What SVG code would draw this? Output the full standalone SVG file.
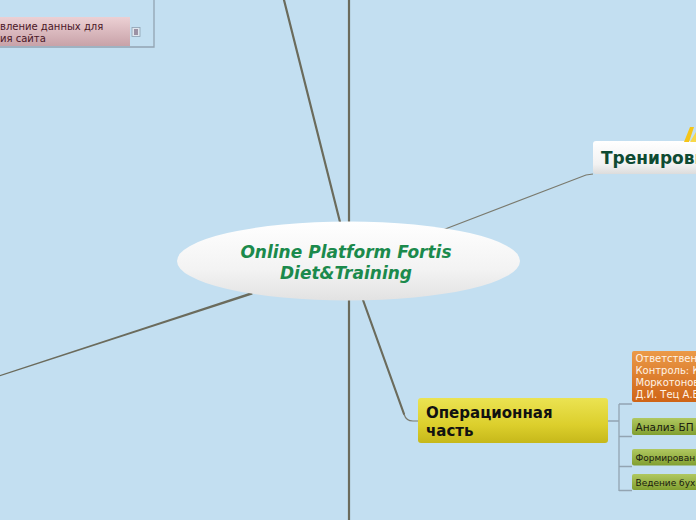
<svg xmlns="http://www.w3.org/2000/svg" width="696" height="520" viewBox="0 0 696 520">
<defs>
<linearGradient id="gCenter" x1="0" y1="0" x2="0" y2="1"><stop offset="0" stop-color="#ffffff"/><stop offset="0.6" stop-color="#f3f3f3"/><stop offset="1" stop-color="#e2e2e2"/></linearGradient>
<linearGradient id="gWhite" x1="0" y1="0" x2="0" y2="1"><stop offset="0" stop-color="#ffffff"/><stop offset="0.7" stop-color="#f2f2f2"/><stop offset="1" stop-color="#dcdcdc"/></linearGradient>
<linearGradient id="gYellow" x1="0" y1="0" x2="0" y2="1"><stop offset="0" stop-color="#ebe352"/><stop offset="0.6" stop-color="#dccf2c"/><stop offset="1" stop-color="#c6b81a"/></linearGradient>
<linearGradient id="gOrange" x1="0" y1="0" x2="0" y2="1"><stop offset="0" stop-color="#eb9a48"/><stop offset="1" stop-color="#cf6416"/></linearGradient>
<linearGradient id="gGreen" x1="0" y1="0" x2="0" y2="1"><stop offset="0" stop-color="#b0c860"/><stop offset="1" stop-color="#819f30"/></linearGradient>
<linearGradient id="gPink" x1="0" y1="0" x2="0" y2="1"><stop offset="0" stop-color="#ecd0d4"/><stop offset="1" stop-color="#c8a2a8"/></linearGradient>
</defs>
<style>
.main{stroke:#6b6b5c;stroke-width:2.2;fill:none;stroke-linecap:round}
.thin{stroke:#7a7a6e;stroke-width:1.2;fill:none}
.sub{stroke:#93a4b2;stroke-width:1.3;fill:none}
.t{font-family:"DejaVu Sans",Verdana,sans-serif}
</style>
<rect width="696" height="520" fill="#c3dff1"/>
<g id="connectors">
<line class="main" x1="349" y1="0" x2="349" y2="224"/>
<line class="main" x1="349" y1="298" x2="349" y2="520"/>
<line class="main" x1="284" y1="0" x2="340" y2="222"/>
<path class="main" d="M363 300 L404 414" stroke-width="2"/>
<path class="thin" d="M404 414 Q406 421 413 421 L418 421"/>
<path d="M0 375 L252 292 L252.6 294.5 L0 376.2 Z" fill="#6b6b5c"/>
<path class="thin" d="M440 231 L586 175 L593 174"/>
<path class="sub" d="M608 421 H619 M619 404 V491 M619 404 H632 M619 436.5 H632 M619 466.5 H632 M619 490.5 H632"/>
<path class="sub" d="M154 0 V47 H0"/>
</g>
<g id="center">
<ellipse cx="348.5" cy="261" rx="171.5" ry="39.5" fill="url(#gCenter)"/>
<text class="t" x="346" y="258" text-anchor="middle" font-size="17" font-weight="bold" font-style="italic" fill="#1b8a4c">Online Platform Fortis</text>
<text class="t" x="346" y="279" text-anchor="middle" font-size="17" font-weight="bold" font-style="italic" fill="#1b8a4c">Diet&amp;Training</text>
</g>
<g id="node-training">
<rect x="593" y="141" width="120" height="33" rx="3" fill="url(#gWhite)"/>
<text class="t" x="601" y="164" font-size="17" font-weight="bold" fill="#0e4a32">Тренировки</text>
<path d="M684 142 L690 127 L694 127 L689 142 Z" fill="#f5c518"/>
<path d="M690 142 L696 132 L696 142 Z" fill="#f7d84a"/>
</g>
<g id="node-operational">
<rect x="418" y="398" width="190" height="45" rx="3" fill="url(#gYellow)"/>
<text class="t" x="426" y="418" font-size="15" font-weight="bold" fill="#111">Операционная</text>
<text class="t" x="426" y="436" font-size="15" font-weight="bold" fill="#111">часть</text>
</g>
<g id="node-responsible">
<rect x="632" y="351" width="80" height="51" rx="2" fill="url(#gOrange)"/>
<text class="t" font-size="10" fill="#fff3e6"><tspan x="635.5" y="362">Ответственн</tspan><tspan x="635.5" y="374">Контроль: К</tspan><tspan x="635.5" y="386">Моркотонов</tspan><tspan x="635.5" y="398">Д.И. Тец А.Е</tspan></text>
</g>
<g id="node-analysis">
<rect x="632" y="418" width="80" height="17" rx="2" fill="url(#gGreen)"/>
<text class="t" x="635.5" y="431" font-size="10.5" fill="#1a1a10">Анализ БП</text>
</g>
<g id="node-forming">
<rect x="632" y="449" width="80" height="16.5" rx="2" fill="url(#gGreen)"/>
<text class="t" x="635.5" y="461" font-size="9" fill="#1a1a10">Формирован</text>
</g>
<g id="node-accounting">
<rect x="632" y="474" width="80" height="16" rx="2" fill="url(#gGreen)"/>
<text class="t" x="635.5" y="486" font-size="9" fill="#1a1a10">Ведение бух</text>
</g>
<g id="node-site-data">
<rect x="-10" y="17" width="140" height="29" fill="url(#gPink)"/>
<text class="t" font-size="10" fill="#4a1626"><tspan x="0" y="30">вление данных для</tspan><tspan x="0" y="42">ия сайта</tspan></text>
<rect x="132" y="27.5" width="8" height="9" fill="#dfe6ee" stroke="#8da0b2" stroke-width="0.8"/>
<path d="M134 30 H138 M134 32 H138 M134 34 H138" stroke="#4a2a4a" stroke-width="0.9"/>
</g>
</svg>
